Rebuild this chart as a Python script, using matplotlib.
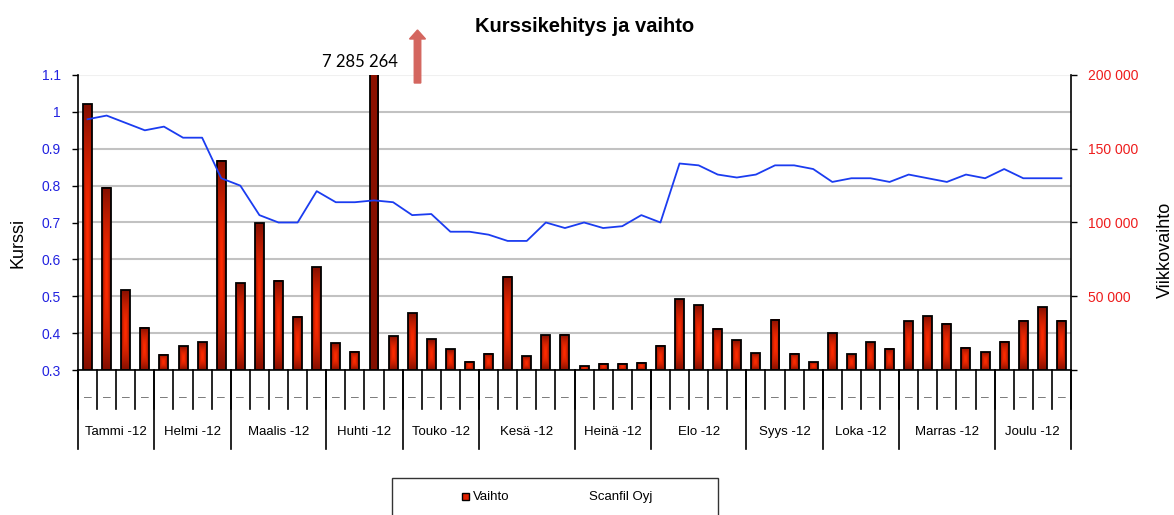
import numpy as np
import matplotlib
matplotlib.use("Agg")
import matplotlib.pyplot as plt
import matplotlib.patches as mpatches
import matplotlib.transforms as mtransforms
from matplotlib.ticker import FixedLocator, FuncFormatter

plt.rcParams['font.family'] = ['Liberation Sans', 'DejaVu Sans']

# ---------------- data ----------------
months = ["Tammi -12", "Helmi -12", "Maalis -12", "Huhti -12", "Touko -12", "Kesä -12",
          "Heinä -12", "Elo -12", "Syys -12", "Loka -12", "Marras -12", "Joulu -12"]
weeks_per_month = [4, 4, 5, 4, 4, 5, 4, 5, 4, 4, 5, 4]

kurssi = [0.98, 0.99, 0.97, 0.95, 0.96, 0.93, 0.93, 0.82, 0.80, 0.72, 0.70, 0.70, 0.785,
          0.755, 0.755, 0.76, 0.755, 0.72, 0.723, 0.675, 0.675, 0.667, 0.65, 0.65, 0.70,
          0.685, 0.70, 0.685, 0.69, 0.72, 0.70, 0.86, 0.855, 0.83, 0.822, 0.83, 0.855,
          0.855, 0.845, 0.81, 0.82, 0.82, 0.81, 0.83, 0.82, 0.81, 0.83, 0.82, 0.845,
          0.82, 0.82, 0.82]

vaihto = [180000, 123400, 54200, 28700, 10200, 16000, 18800, 141900, 58800, 99500,
          60500, 36100, 69800, 18300, 12400, 7285264, 22800, 38400, 21000, 14000, 5600,
          11000, 63300, 9300, 23700, 23900, 2700, 4100, 4300, 4900, 16300, 48100, 43900,
          28000, 20300, 11500, 33900, 11100, 5200, 24900, 10800, 18800, 14500, 33200,
          36600, 31200, 15100, 12000, 19200, 33400, 42500, 33400]

peak_label = "7 285 264"
title = "Kurssikehitys ja vaihto"
left_label = "Kurssi"
right_label = "Viikkovaihto"
week_label = "–"
legend_labels = ["Vaihto", "Scanfil Oyj"]

# ---------------- figure ----------------
W_PX, H_PX = 1174, 515
fig = plt.figure(figsize=(W_PX / 100, H_PX / 100), dpi=100)
L, R, T, B = 78, 1071, 75, 370
rect = [L / W_PX, 1 - B / H_PX, (R - L) / W_PX, (B - T) / H_PX]

ax = fig.add_axes(rect)       # line, left axis
ax2 = ax.twinx()              # bars, right axis
ax.set_zorder(ax2.get_zorder() + 1)
ax.patch.set_visible(False)

n = len(vaihto)
x = np.arange(n)

# bars with gradient fill
ax2.set_ylim(0, 200000)
ax2.set_xlim(-0.5, n - 0.5)
bars = ax2.bar(x, vaihto, width=0.47, facecolor='none', edgecolor='black',
               linewidth=1.3, zorder=3)

dark = np.array([0.52, 0.06, 0.0])
bright = np.array([1.0, 0.17, 0.0])
ny, nx = 80, 30
uu, vv = np.meshgrid(np.linspace(-1, 1, nx), np.linspace(-1, 1, ny))
tt = np.maximum(np.abs(uu), np.abs(vv)) ** 1.6
grad = bright[None, None, :] * (1 - tt[..., None]) + dark[None, None, :] * tt[..., None]
for b in bars:
    x0, w, h = b.get_x(), b.get_width(), b.get_height()
    im = ax2.imshow(grad, extent=(x0, x0 + w, 0, h), origin='lower',
                    aspect='auto', interpolation='bilinear', zorder=2)
    im.set_clip_path(b)
    im.set_clip_box(ax2.bbox)

# grid (aligned with left ticks)
ax2.yaxis.set_major_locator(FixedLocator(np.arange(0, 200001, 50000)))
ax2.yaxis.set_minor_locator(FixedLocator(np.arange(25000, 200000, 50000)))
ax2.yaxis.set_major_formatter(FuncFormatter(
    lambda v, p: "" if v == 0 else f"{int(v):,}".replace(",", " ")))
ax2.grid(True, axis='y', which='both', color='#c2c2c2', linewidth=1.5, zorder=0)
ax2.set_axisbelow(True)
ax2.get_ygridlines()[-1].set_color('#f0f0f0')
ax2.tick_params(axis='y', which='major', direction='out', length=4, width=1,
                color='black', labelcolor='#ee1c1c', labelsize=10, pad=8.4)
ax2.tick_params(axis='y', which='minor', length=0)
ax2.set_ylabel(right_label, fontsize=13, rotation=90, va='center')
ax2.yaxis.set_label_coords(1.0947, 0.407)

# line
ax.plot(x, kurssi, color='#1b3cf0', linewidth=1.3, zorder=4)
ax.set_ylim(0.3, 1.1)
ax.set_xlim(-0.5, n - 0.5)
ax.set_yticks(np.round(np.arange(0.3, 1.11, 0.1), 1))
ax.yaxis.set_major_formatter(FuncFormatter(lambda v, p: f"{v:g}"))
ax.tick_params(axis='y', direction='out', length=4, width=1, color='black',
               labelcolor='#2222e0', labelsize=10, pad=8.5)
ax.set_xticks([])
ax2.set_xticks([])
ax.set_ylabel(left_label, fontsize=13, va='center')
ax.yaxis.set_label_coords(-0.0604, 0.43)

for a in (ax, ax2):
    a.spines['top'].set_visible(False)
ax.spines['right'].set_visible(False)
ax2.spines['left'].set_visible(False)
ax2.spines['bottom'].set_visible(False)
ax.spines['bottom'].set_linewidth(1.2)
ax.spines['left'].set_linewidth(1.2)
ax2.spines['right'].set_linewidth(1.2)

# category table below the axis
trans = mtransforms.blended_transform_factory(ax.transData, ax.transAxes)
H_ax = B - T
y_week = -(409 - B) / H_ax
y_month = -(449 - B) / H_ax
for i in range(n + 1):
    ax.plot([i - 0.5, i - 0.5], [0, y_week], color='black', lw=1.2,
            transform=trans, clip_on=False)
for i in range(n):
    ax.text(i, -(397 - B) / H_ax, week_label, color='#7a7a7a', fontsize=10,
            ha='center', va='center', transform=trans)
bounds = np.concatenate([[0], np.cumsum(weeks_per_month)]) - 0.5
for bx in bounds:
    ax.plot([bx, bx], [0, y_month], color='black', lw=1.2,
            transform=trans, clip_on=False)
for m, a0, a1 in zip(months, bounds[:-1], bounds[1:]):
    ax.text((a0 + a1) / 2, -(432 - B) / H_ax, m, fontsize=9.5, ha='center',
            va='center', transform=trans)

# peak annotation
peak_i = int(np.argmax(vaihto))
ax2.text(peak_i - 0.74, 1.0 + 13 / H_ax, peak_label, family='Lato', fontsize=12,
         ha='center', va='center',
         transform=mtransforms.blended_transform_factory(ax2.transData, ax2.transAxes))
arrow = mpatches.FancyArrow(4.175, (H_PX - 83) / 100, 0, 0.53, width=0.065,
                            head_width=0.16, head_length=0.09,
                            length_includes_head=True, color='#d4665f',
                            transform=fig.dpi_scale_trans)
fig.patches.append(arrow)

# title
fig.text(584.5 / W_PX, 1 - 27 / H_PX, title, fontsize=14.5, fontweight='bold',
         ha='center', va='center')

# legend box (cut by bottom edge as in the reference)
box = mpatches.Rectangle((3.92, -0.5), 3.26, (H_PX - 478) / 100 + 0.5,
                         facecolor='none', edgecolor='#333333', lw=1.0,
                         transform=fig.dpi_scale_trans)
fig.patches.append(box)
sq = mpatches.Rectangle((4.62, (H_PX - 500) / 100), 0.07, 0.07, facecolor='#e02000',
                        edgecolor='black', lw=1.0, transform=fig.dpi_scale_trans)
fig.patches.append(sq)
fig.text(4.73 / (W_PX / 100), (H_PX - 497) / H_PX, legend_labels[0], fontsize=9.5,
         va='center', ha='left')
fig.text(5.89 / (W_PX / 100), (H_PX - 497) / H_PX, legend_labels[1], fontsize=9.5,
         va='center', ha='left')

fig.savefig("out.png", dpi=100)
